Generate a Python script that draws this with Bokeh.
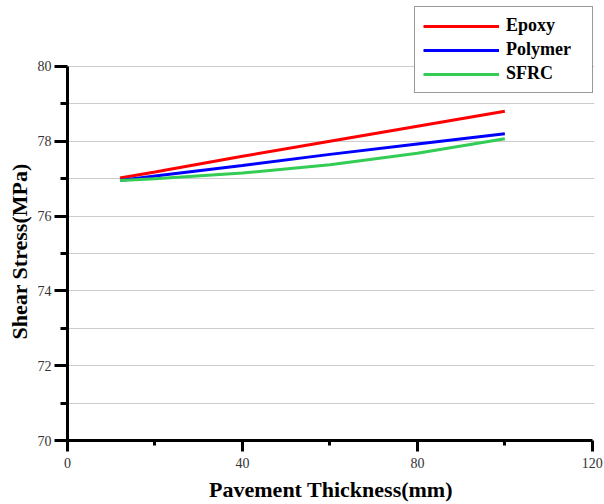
from bokeh.plotting import figure
from bokeh.models import FixedTicker, Range1d, Legend, LegendItem, Title
from bokeh.embed import file_html
from bokeh.resources import INLINE

thickness = [12, 20, 40, 60, 80, 100]
epoxy = [77.02, 77.18, 77.60, 78.00, 78.40, 78.80]
polymer = [76.95, 77.07, 77.35, 77.65, 77.93, 78.20]
sfrc = [76.95, 77.00, 77.15, 77.37, 77.68, 78.07]

series_names = ["Epoxy", "Polymer", "SFRC"]
series_colors = ["#FF0000", "#0000FF", "#33CC55"]

x_major = [0, 40, 80, 120]
x_minor = [20, 60, 100]
y_major = [70, 72, 74, 76, 78, 80]
y_minor = [71, 73, 75, 77, 79]

FONT = "Liberation Serif"

p = figure(width=604, height=504, output_backend="svg", toolbar_location=None,
           x_range=Range1d(0, 120.5), y_range=Range1d(70, 81.63),
           min_border_left=67, min_border_right=10, min_border_top=5, min_border_bottom=64)
p.outline_line_color = None
p.background_fill_color = "white"
p.border_fill_color = "white"

renderers = []
for vals, name, col in zip([epoxy, polymer, sfrc], series_names, series_colors):
    r = p.line(thickness, vals, line_color=col, line_width=3)
    renderers.append((name, r))

# axes
for ax in (p.xaxis[0], p.yaxis[0]):
    ax.axis_line_width = 3
    ax.axis_line_color = "black"
    ax.major_tick_line_width = 3
    ax.minor_tick_line_width = 3
    ax.major_tick_line_color = "black"
    ax.minor_tick_line_color = "black"
    ax.major_label_text_font = FONT
    ax.major_label_text_font_size = "14px"
    ax.major_label_text_color = "#333333"
    ax.axis_label_text_font = FONT
    ax.axis_label_text_font_style = "bold"
    ax.axis_label_text_color = "black"

p.xaxis.axis_label_text_font_size = "22px"
p.xaxis.ticker = FixedTicker(ticks=x_major, minor_ticks=x_minor)
p.yaxis.ticker = FixedTicker(ticks=y_major, minor_ticks=y_minor)
p.xaxis.bounds = (0, 120)
p.yaxis.bounds = (70, 80)
p.xaxis.major_tick_out = 11
p.xaxis.major_tick_in = 0
p.xaxis.minor_tick_out = 5
p.xaxis.minor_tick_in = 0
p.yaxis.major_tick_out = 13
p.yaxis.major_tick_in = 0
p.yaxis.minor_tick_out = 7
p.yaxis.minor_tick_in = 0
p.xaxis.major_label_standoff = 6
p.yaxis.major_label_standoff = 3
p.xaxis.axis_label = "Pavement Thickness(mm)"
p.xaxis.axis_label_standoff = 6

# y axis title placed as a side title so it can be positioned along the 70-80 span
ytitle = Title(text="Shear Stress(MPa)", align="left", offset=101,
               text_font=FONT, text_font_style="bold", text_font_size="22px",
               text_color="black", standoff=6)
p.add_layout(ytitle, "left")

p.xgrid.grid_line_color = None
p.ygrid.grid_line_color = "#cccccc"
p.ygrid.grid_line_width = 1
p.ygrid.minor_grid_line_color = "#cccccc"
p.ygrid.minor_grid_line_width = 1

legend = Legend(items=[LegendItem(label=n, renderers=[r]) for n, r in renderers],
                location="top_right")
legend.margin = 1
legend.padding = 8
legend.spacing = 3
legend.glyph_width = 76
legend.glyph_height = 20
legend.label_height = 20
legend.label_width = 78
legend.label_standoff = 7
legend.label_text_font = FONT
legend.label_text_font_style = "bold"
legend.label_text_font_size = "18px"
legend.label_text_color = "black"
legend.border_line_color = "#333333"
legend.border_line_width = 1
legend.background_fill_color = "white"
legend.background_fill_alpha = 1
p.add_layout(legend)

open("out.html", "w").write(file_html(p, INLINE))
